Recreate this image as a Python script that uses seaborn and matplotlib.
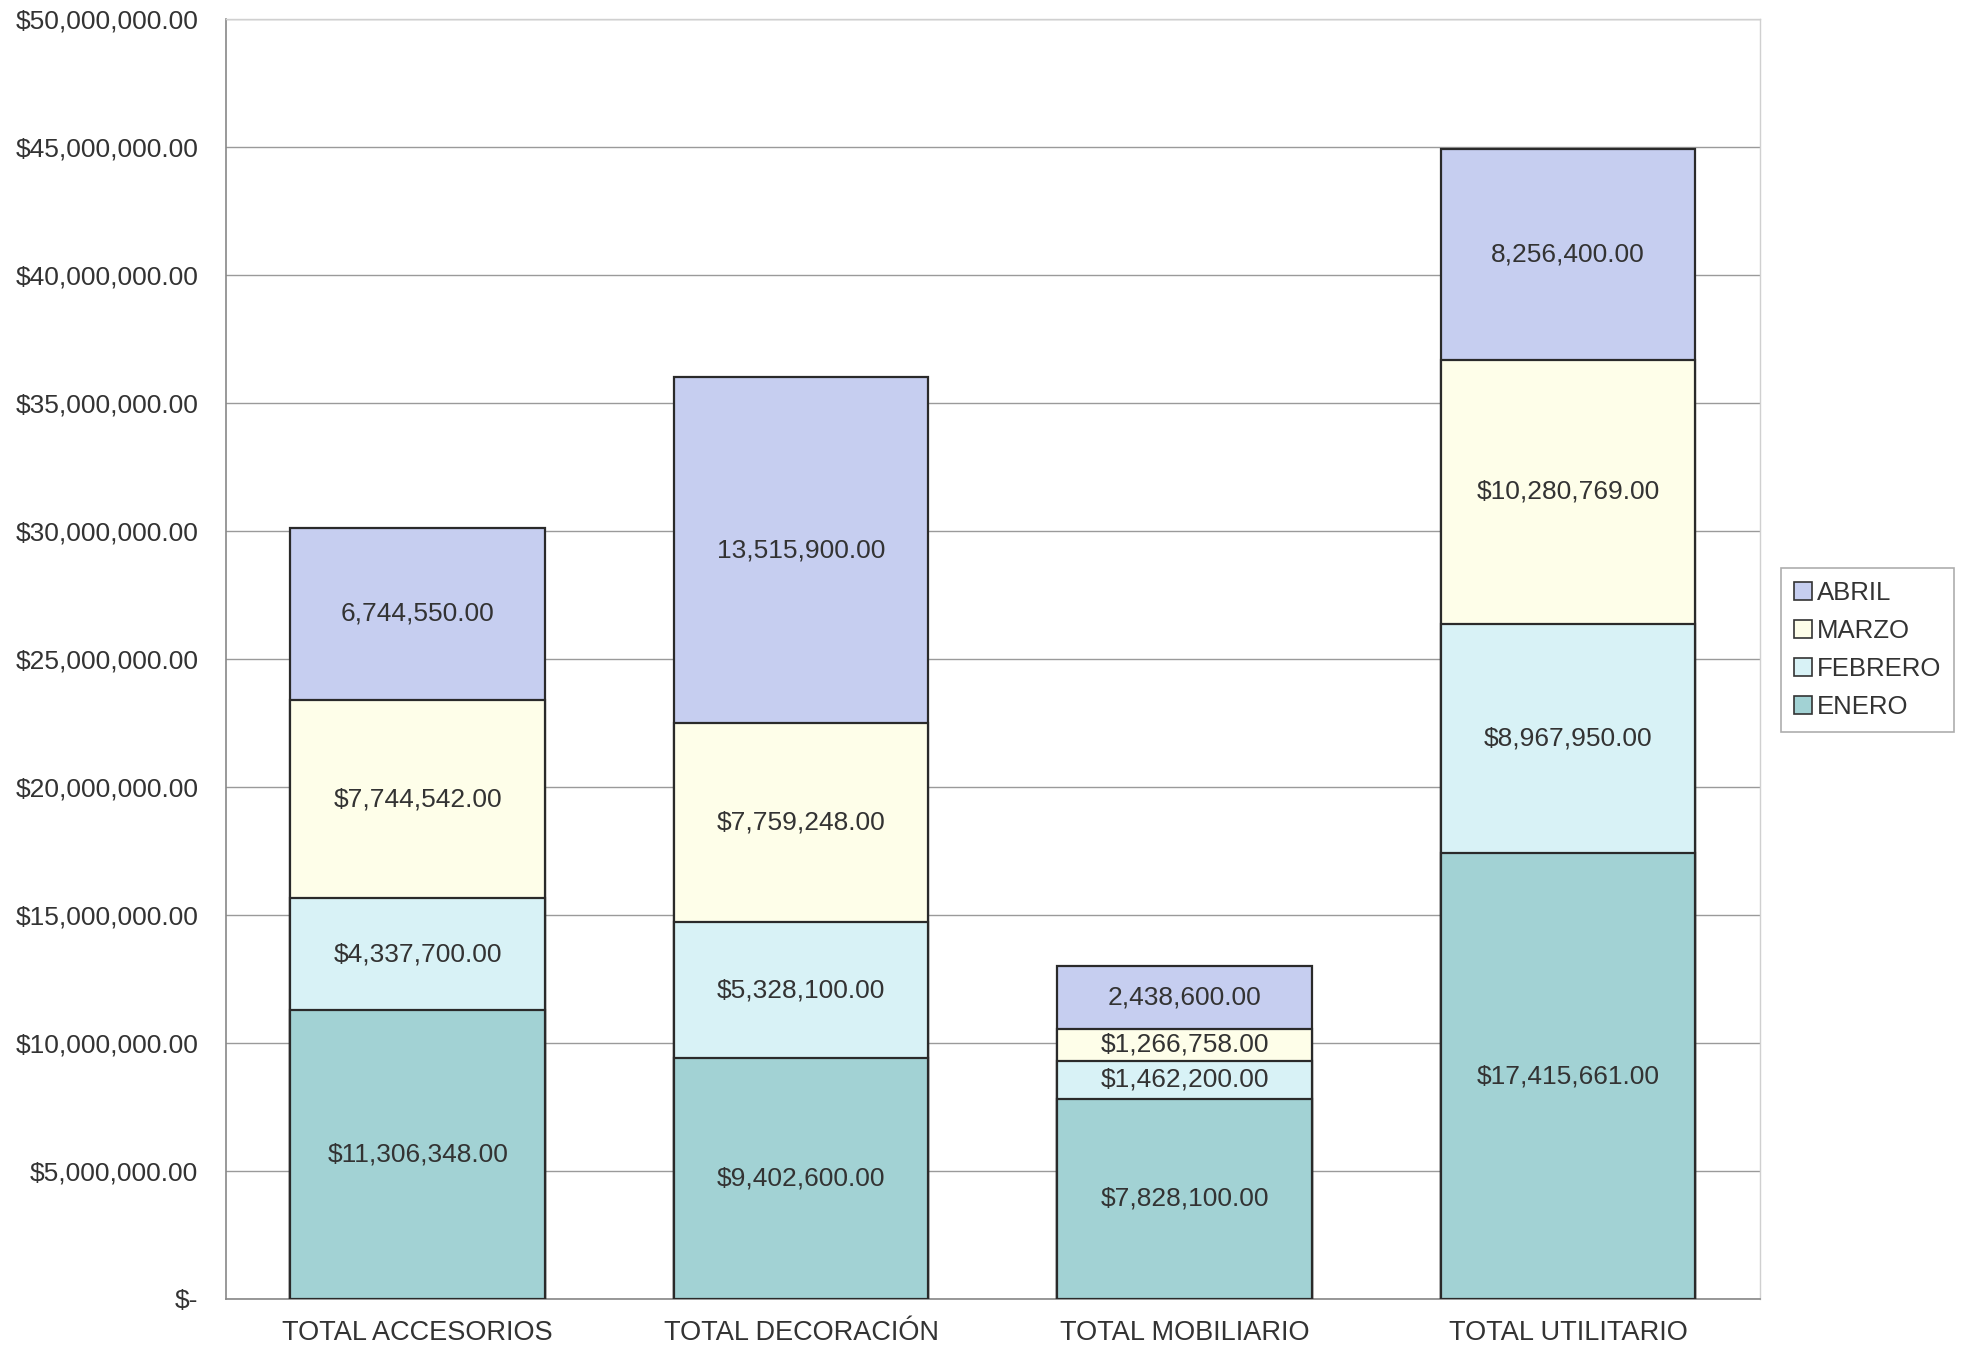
import numpy as np
import pandas as pd
import matplotlib
matplotlib.use("Agg")
import matplotlib.pyplot as plt
import seaborn as sns

# ------------------------------
# DATA
# ------------------------------
categorias = ["TOTAL ACCESORIOS", "TOTAL DECORACIÓN", "TOTAL MOBILIARIO", "TOTAL UTILITARIO"]
meses = ["ENERO", "FEBRERO", "MARZO", "ABRIL"]
enero = [11306348.00, 9402600.00, 7828100.00, 17415661.00]
febrero = [4337700.00, 5328100.00, 1462200.00, 8967950.00]
marzo = [7744542.00, 7759248.00, 1266758.00, 10280769.00]
abril = [6744550.00, 13515900.00, 2438600.00, 8256400.00]
colores = {"ENERO": "#a2d2d4", "FEBRERO": "#d8f2f6", "MARZO": "#fefee9", "ABRIL": "#c6cef0"}
con_signo = {"ENERO": True, "FEBRERO": True, "MARZO": True, "ABRIL": False}

df = pd.DataFrame({"Categoria": categorias, "ENERO": enero, "FEBRERO": febrero,
                   "MARZO": marzo, "ABRIL": abril})
acum = df[meses].cumsum(axis=1)

# ------------------------------
# STYLE
# ------------------------------
sns.set_style("white")
plt.rcParams["font.family"] = ["Liberation Sans", "DejaVu Sans"]
plt.rcParams["text.color"] = "#333333"

fig = plt.figure(figsize=(19.66, 13.51), dpi=100)
ax = fig.add_axes([0.115, 0.0385, 0.78, 0.9475])

# stacked bars: draw cumulative totals from top month down
handles = {}
for mes in reversed(meses):
    tmp = pd.DataFrame({"Categoria": categorias, "valor": acum[mes].values})
    sns.barplot(data=tmp, x="Categoria", y="valor", color=colores[mes], ax=ax,
                width=0.664, edgecolor="#2a2a2a", linewidth=1.6, saturation=1,
                errorbar=None, zorder=3)
    handles[mes] = plt.Rectangle((0, 0), 1, 1, facecolor=colores[mes],
                                 edgecolor="#333333", linewidth=1.2)

# value labels
for i in range(len(categorias)):
    base = 0
    for mes in meses:
        v = df.loc[i, mes]
        txt = ("$" if con_signo[mes] else "") + f"{v:,.2f}"
        ax.text(i, base + v / 2, txt, ha="center", va="center", fontsize=19,
                color="#333333", zorder=5)
        base += v

ax.set_ylim(0, 50000000)
ax.set_xlim(-0.5, 3.5)
ax.set_yticks(np.arange(0, 50000001, 5000000))
ax.yaxis.set_major_formatter(
    matplotlib.ticker.FuncFormatter(lambda y, p: "$-" if y == 0 else f"${y:,.2f}"))
ax.grid(axis="y", color="#9a9a9a", linewidth=1.0, zorder=0)
ax.set_axisbelow(True)
ax.set_xlabel("")
ax.set_ylabel("")

ax.tick_params(axis="y", labelsize=19, colors="#333333", length=8, width=1,
               direction="out", pad=12, color="#888888")
ax.tick_params(axis="x", which="major", labelsize=19.5, colors="#333333", length=0, pad=15)
ax.set_xticks([-0.5, 0.5, 1.5, 2.5, 3.5], minor=True)
ax.tick_params(axis="x", which="minor", length=8, width=1, color="#888888", direction="out")

for s in ["left", "bottom"]:
    ax.spines[s].set_color("#888888")
    ax.spines[s].set_linewidth(1.2)
for s in ["top", "right"]:
    ax.spines[s].set_color("#d0d0d0")
    ax.spines[s].set_linewidth(1.0)

leg = fig.legend([handles[m] for m in reversed(meses)], list(reversed(meses)),
                 loc="center left", bbox_to_anchor=(0.906, 0.519), fontsize=18.5,
                 frameon=True, fancybox=False, edgecolor="#999999",
                 handlelength=0.7, handleheight=0.7, handletextpad=0.2,
                 labelspacing=0.55, borderpad=0.5, borderaxespad=0)
leg.get_frame().set_linewidth(1.2)

plt.savefig("out.png", dpi=100)
